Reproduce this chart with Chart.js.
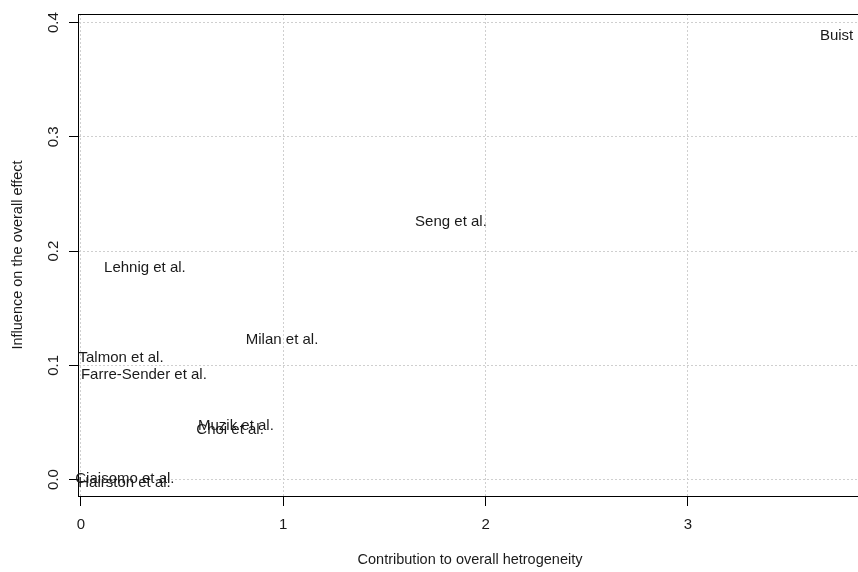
<!DOCTYPE html>
<html lang="en">
<head>
    <meta charset="UTF-8">
    <title>Baujat plot</title>
    <script src="https://cdn.jsdelivr.net/npm/chart.js"></script>
</head>
<style>
    body {
        margin: 0;
        overflow: hidden;
        background: #fff;
    }
    .wrap {
        width: 872px;
        height: 572px;
    }
</style>

<body>
    <div class="wrap">
        <canvas id="baujat" width="872" height="572"></canvas>
    </div>
    <script>
        // study labels and their coordinates
        const studies = ['Buist et al.', 'Seng et al.', 'Lehnig et al.', 'Milan et al.', 'Talmon et al.',
            'Farre-Sender et al.', 'Muzik et al.', 'Choi et al.', 'Ciaisomo et al.', 'Hairston et al.'];
        const heterogeneity = [3.826, 1.829, 0.316, 0.994, 0.198, 0.311, 0.766, 0.737, 0.217, 0.215];
        const influence = [0.3905, 0.2272, 0.187, 0.1243, 0.1081, 0.0933, 0.0486, 0.0451, 0.0022, -0.0013];

        const xTicks = [0, 1, 2, 3];
        const yTicks = [0, 0.1, 0.2, 0.3, 0.4];
        const xTitle = 'Contribution to overall hetrogeneity';
        const yTitle = 'Influence on the overall effect';

        const FONT = '"Liberation Sans", Arial, sans-serif';

        // labels at the points, rotated y tick labels, titles and the box
        const textPlugin = {
            id: 'baujatText',
            afterDraw(chart) {
                const ctx = chart.ctx;
                const area = chart.chartArea;
                const xs = chart.scales.x;
                const ys = chart.scales.y;
                ctx.save();

                // box around plot region
                ctx.strokeStyle = '#000';
                ctx.lineWidth = 1;
                ctx.strokeRect(area.left + 0.5, area.top + 0.5, area.right - area.left, area.bottom - area.top);

                ctx.fillStyle = '#1a1a1a';
                ctx.font = '15px ' + FONT;
                ctx.textAlign = 'center';
                ctx.textBaseline = 'middle';

                // x tick labels
                xTicks.forEach(v => ctx.fillText(String(v), xs.getPixelForValue(v), 525));

                // y tick labels, rotated like R
                yTicks.forEach(v => {
                    ctx.save();
                    ctx.translate(53.5, ys.getPixelForValue(v));
                    ctx.rotate(-Math.PI / 2);
                    ctx.fillText(v.toFixed(1), 0, 0);
                    ctx.restore();
                });

                // axis titles
                ctx.font = '14.5px ' + FONT;
                ctx.fillText(xTitle, (area.left + area.right) / 2, 560);
                ctx.save();
                ctx.translate(17.5, (area.top + area.bottom) / 2);
                ctx.rotate(-Math.PI / 2);
                ctx.fillText(yTitle, 0, 0);
                ctx.restore();

                // study labels (R centres on the cap height, canvas a bit higher)
                ctx.font = '15px ' + FONT;
                const meta = chart.getDatasetMeta(0);
                meta.data.forEach((pt, i) => {
                    ctx.fillText(studies[i], pt.x, pt.y + 2);
                });
                ctx.restore();
            }
        };

        const ctx = document.getElementById('baujat').getContext('2d');
        const baujatChart = new Chart(ctx, {
            type: 'scatter',
            data: {
                datasets: [{
                    data: heterogeneity.map((v, i) => ({ x: v, y: influence[i] })),
                    pointRadius: 0,
                    pointHoverRadius: 0
                }]
            },
            options: {
                responsive: false,
                animation: false,
                layout: { padding: { top: 14, right: 10, left: 0, bottom: 0 } },
                plugins: {
                    legend: { display: false },
                    tooltip: { enabled: false }
                },
                scales: {
                    x: {
                        type: 'linear',
                        min: -0.0148,
                        max: 3.861,
                        afterBuildTicks: s => { s.ticks = xTicks.map(v => ({ value: v })); },
                        afterFit: s => { s.height = 76; },
                        ticks: { display: false },
                        grid: {
                            color: '#cfcfcf',
                            drawTicks: true,
                            tickLength: 10,
                            tickColor: '#000',
                            tickBorderDash: [],
                            tickWidth: 1
                        },
                        // in v4 the dash here is what the grid lines use
                        border: { display: true, color: '#000', width: 1, dash: [2, 2] }
                    },
                    y: {
                        type: 'linear',
                        min: -0.01445,
                        max: 0.4076,
                        afterBuildTicks: s => { s.ticks = yTicks.map(v => ({ value: v })); },
                        afterFit: s => { s.width = 78; },
                        ticks: { display: false },
                        grid: {
                            color: '#cfcfcf',
                            drawTicks: true,
                            tickLength: 9,
                            tickColor: '#000',
                            tickBorderDash: [],
                            tickWidth: 1
                        },
                        border: { display: true, color: '#000', width: 1, dash: [2, 2] }
                    }
                }
            },
            plugins: [textPlugin]
        });
    </script>
</body>
</html>
